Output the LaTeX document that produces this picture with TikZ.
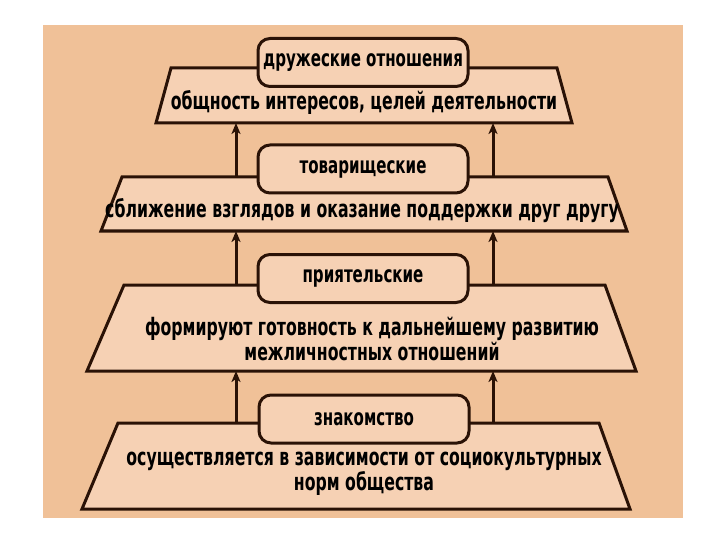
\documentclass[tikz,border=0pt]{standalone}
\usepackage{fontspec}
\setmainfont{DejaVu Sans}[FakeStretch=0.655]
\usetikzlibrary{arrows.meta}
\definecolor{bgpeach}{RGB}{240,193,152}
\definecolor{fillpeach}{RGB}{246,209,180}
\definecolor{edgebrown}{RGB}{42,18,6}
\begin{document}
\begin{tikzpicture}[x=1pt, y=-1pt,
  level/.style={draw=edgebrown, line width=3pt, fill=fillpeach, line join=miter},
  tag/.style={rectangle, rounded corners=12pt, draw=edgebrown, line width=3pt,
              fill=fillpeach, minimum width=210pt, minimum height=48pt, inner sep=0pt,
              font=\bfseries\fontsize{23}{22}\selectfont},
  desc/.style={align=center, inner sep=0pt,
               font=\bfseries\fontsize{24}{22}\selectfont},
  arr/.style={-{Stealth[length=11pt,width=9pt,inset=3pt]}, line width=3pt, draw=edgebrown},
]

% Page and background
\useasboundingbox (0,0) rectangle (720,540);
\fill[white] (0,0) rectangle (720,540);
\fill[bgpeach] (43,25) rectangle (683,518);

% Levels (trapezia)
\draw[level] (156,123) coordinate (T1s) -- (171,68) coordinate (T1n)
             -- (557,68) -- (572,123) -- cycle;
\draw[level] (101,231) coordinate (T2s) -- (122,177) coordinate (T2n)
             -- (608,177) -- (627,231) -- cycle;
\draw[level] (87,371) coordinate (T3s) -- (124,285) coordinate (T3n)
             -- (605,285) -- (636,371) -- cycle;
\draw[level] (82,509) coordinate (T4s) -- (118,423) coordinate (T4n)
             -- (599,423) -- (630,509) -- cycle;

% Level texts
\node[desc] (D1) at (364,102) {общность интересов, целей деятельности};
\node[desc] (D2) at (362,211) {сближение взглядов и оказание поддержки друг другу};
\node[desc] (D3) at (372,339) {формируют готовность к дальнейшему развитию\\межличностных отношений};
\node[desc] (D4) at (364,474) {осуществляется в зависимости от социокультурных\\норм общества};

% Arrows between levels
\draw[arr] (T2n -| 236,0) -- (T1s -| 236,0);
\draw[arr] (T2n -| 493,0) -- (T1s -| 493,0);
\draw[arr] (T3n -| 236,0) -- (T2s -| 236,0);
\draw[arr] (T3n -| 493,0) -- (T2s -| 493,0);
\draw[arr] (T4n -| 236,0) -- (T3s -| 236,0);
\draw[arr] (T4n -| 493,0) -- (T3s -| 493,0);

% Level names
\node[tag] (B1) at (363,62.5) {дружеские отношения};
\node[tag] (B2) at (363,169) {товарищеские};
\node[tag] (B3) at (363,278.5) {приятельские};
\node[tag] (B4) at (364,419) {знакомство};

\end{tikzpicture}
\end{document}
